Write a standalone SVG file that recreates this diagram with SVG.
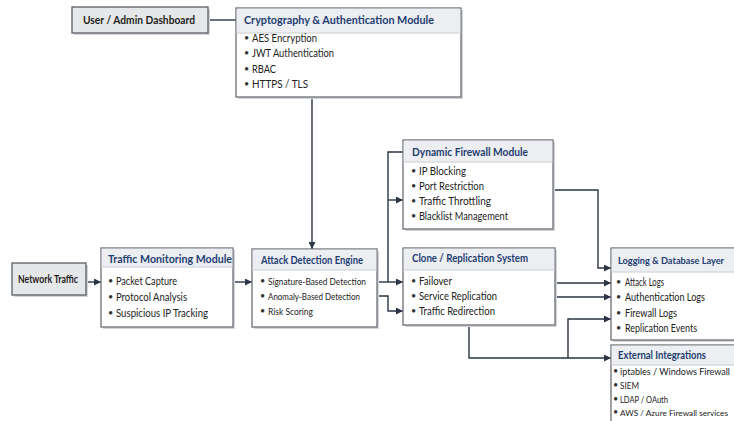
<svg xmlns="http://www.w3.org/2000/svg" width="734" height="421" viewBox="0 0 734 421">
<defs>
<marker id="ah" viewBox="0 0 10 10" refX="10" refY="5" markerWidth="7" markerHeight="7" markerUnits="userSpaceOnUse" orient="auto"><path d="M0,0 L10,5 L0,10 z" fill="#2b3546"/></marker>
<style>
.box{fill:#fff;stroke:#6b6f75;stroke-width:1.3}
.sh{fill:#d4d6da}
.hd{fill:#eceef1}
.gb{fill:#e6e7e9;stroke:#5b5f66;stroke-width:1.3}
text{font-family:Lato,"Open Sans",sans-serif}
.ht{font-weight:bold;font-size:11.5px;fill:#1f3d73}
.it{font-size:10.5px;fill:#222}
.sm{font-size:10px}
.xs{font-size:8.8px}
.b{font-size:9px;fill:#333}
.bt{font-weight:bold;font-size:11px;fill:#1d1d1d}
.c{fill:none;stroke:#2b3546;stroke-width:1.4}
.a{marker-end:url(#ah)}
</style>
</defs>
<rect width="734" height="421" fill="#fff"/>
<g id="connectors">
<path class="c" d="M208,20 H237"/>
<path class="c a" d="M312,97 V249"/>
<path class="c a" d="M86,282 H101"/>
<path class="c a" d="M233,282 H252"/>
<path class="c a" d="M377,282 H403"/>
<path class="c" d="M388,282 V152 H403"/>
<path class="c a" d="M388,200 H403"/>
<path class="c a" d="M377,296 H388 V311 H403"/>
<path class="c a" d="M553,190 H598 V268 H611"/>
<path class="c a" d="M555,283 H611"/>
<path class="c a" d="M555,297 H611"/>
<path class="c a" d="M469,325 V358 H611"/>
<path class="c a" d="M568,358 V319 H611"/>
</g>
<g id="dashboard">
<rect class="sh" x="74" y="9" width="136" height="26"/>
<rect class="gb" x="72" y="7" width="136" height="26"/>
<text class="bt" x="83" y="24" textLength="112" lengthAdjust="spacingAndGlyphs">User / Admin Dashboard</text>
</g>
<g id="crypto">
<rect class="sh" x="238" y="10" width="225" height="89"/>
<rect class="box" x="236" y="8" width="225" height="89"/>
<rect class="hd" x="236.7" y="8.7" width="223.6" height="24"/>
<line x1="236" y1="33" x2="461" y2="33" stroke="#c9ccd1"/>
<text class="ht" x="244" y="24" textLength="190" lengthAdjust="spacingAndGlyphs">Cryptography &amp; Authentication Module</text>
<text class="b" x="244" y="41">•</text><text class="it" x="252" y="42" textLength="65" lengthAdjust="spacingAndGlyphs">AES Encryption</text>
<text class="b" x="244" y="56">•</text><text class="it" x="252" y="57" textLength="82" lengthAdjust="spacingAndGlyphs">JWT Authentication</text>
<text class="b" x="244" y="72">•</text><text class="it" x="252" y="73" textLength="24" lengthAdjust="spacingAndGlyphs">RBAC</text>
<text class="b" x="244" y="87">•</text><text class="it" x="252" y="88" textLength="56" lengthAdjust="spacingAndGlyphs">HTTPS / TLS</text>
</g>
<g id="network">
<rect class="sh" x="14" y="265" width="74" height="32"/>
<rect class="gb" x="12" y="263" width="74" height="32"/>
<text class="bt" x="18" y="283" textLength="60" lengthAdjust="spacingAndGlyphs">Network Traffic</text>
</g>
<g id="monitoring">
<rect class="sh" x="103" y="250" width="132" height="79"/>
<rect class="box" x="101" y="248" width="132" height="79"/>
<rect class="hd" x="101.7" y="248.7" width="130.6" height="18"/>
<line x1="101" y1="267" x2="233" y2="267" stroke="#c9ccd1"/>
<text class="ht" x="108" y="263" textLength="124" lengthAdjust="spacingAndGlyphs">Traffic Monitoring Module</text>
<text class="b" x="108" y="284">•</text><text class="it" x="116" y="285" textLength="61" lengthAdjust="spacingAndGlyphs">Packet Capture</text>
<text class="b" x="108" y="300">•</text><text class="it" x="116" y="301" textLength="71" lengthAdjust="spacingAndGlyphs">Protocol Analysis</text>
<text class="b" x="108" y="316">•</text><text class="it" x="116" y="317" textLength="92" lengthAdjust="spacingAndGlyphs">Suspicious IP Tracking</text>
</g>
<g id="attack">
<rect class="sh" x="254" y="251" width="125" height="78"/>
<rect class="box" x="252" y="249" width="125" height="78"/>
<rect class="hd" x="252.7" y="249.7" width="123.6" height="20"/>
<line x1="252" y1="270" x2="377" y2="270" stroke="#c9ccd1"/>
<text class="ht" x="261" y="264" textLength="102" lengthAdjust="spacingAndGlyphs">Attack Detection Engine</text>
<text class="b" x="260" y="284">•</text><text class="it sm" x="268" y="285" textLength="98" lengthAdjust="spacingAndGlyphs">Signature-Based Detection</text>
<text class="b" x="260" y="299">•</text><text class="it sm" x="268" y="300" textLength="92" lengthAdjust="spacingAndGlyphs">Anomaly-Based Detection</text>
<text class="b" x="260" y="314">•</text><text class="it sm" x="268" y="315" textLength="45" lengthAdjust="spacingAndGlyphs">Risk Scoring</text>
</g>
<g id="firewall">
<rect class="sh" x="405" y="142" width="150" height="89"/>
<rect class="box" x="403" y="140" width="150" height="89"/>
<rect class="hd" x="403.7" y="140.7" width="148.6" height="21"/>
<line x1="403" y1="162" x2="553" y2="162" stroke="#c9ccd1"/>
<text class="ht" x="412" y="156" textLength="116" lengthAdjust="spacingAndGlyphs">Dynamic Firewall Module</text>
<text class="b" x="411" y="174">•</text><text class="it" x="419" y="175" textLength="47" lengthAdjust="spacingAndGlyphs">IP Blocking</text>
<text class="b" x="411" y="189">•</text><text class="it" x="419" y="190" textLength="65" lengthAdjust="spacingAndGlyphs">Port Restriction</text>
<text class="b" x="411" y="204">•</text><text class="it" x="419" y="205" textLength="72" lengthAdjust="spacingAndGlyphs">Traffic Throttling</text>
<text class="b" x="411" y="219">•</text><text class="it" x="419" y="220" textLength="89" lengthAdjust="spacingAndGlyphs">Blacklist Management</text>
</g>
<g id="clone">
<rect class="sh" x="405" y="250" width="152" height="77"/>
<rect class="box" x="403" y="248" width="152" height="77"/>
<rect class="hd" x="403.7" y="248.7" width="150.6" height="21"/>
<line x1="403" y1="270" x2="555" y2="270" stroke="#c9ccd1"/>
<text class="ht" x="412" y="262" textLength="116" lengthAdjust="spacingAndGlyphs">Clone / Replication System</text>
<text class="b" x="411" y="284">•</text><text class="it" x="419" y="285" textLength="33" lengthAdjust="spacingAndGlyphs">Failover</text>
<text class="b" x="411" y="299">•</text><text class="it" x="419" y="300" textLength="78" lengthAdjust="spacingAndGlyphs">Service Replication</text>
<text class="b" x="411" y="314">•</text><text class="it" x="419" y="315" textLength="76" lengthAdjust="spacingAndGlyphs">Traffic Redirection</text>
</g>
<g id="logging">
<rect class="sh" x="613" y="250" width="125" height="92"/>
<rect class="box" x="611" y="248" width="125" height="92"/>
<rect class="hd" x="611.7" y="248.7" width="123.6" height="23"/>
<line x1="611" y1="272" x2="736" y2="272" stroke="#c9ccd1"/>
<text class="ht" x="618" y="264" style="font-size:10.2px" textLength="106" lengthAdjust="spacingAndGlyphs">Logging &amp; Database Layer</text>
<text class="b" x="616" y="285">•</text><text class="it" x="625" y="286" textLength="39" lengthAdjust="spacingAndGlyphs">Attack Logs</text>
<text class="b" x="616" y="300">•</text><text class="it" x="625" y="301" textLength="80" lengthAdjust="spacingAndGlyphs">Authentication Logs</text>
<text class="b" x="616" y="316">•</text><text class="it" x="625" y="317" textLength="52" lengthAdjust="spacingAndGlyphs">Firewall Logs</text>
<text class="b" x="616" y="331">•</text><text class="it" x="625" y="332" textLength="72" lengthAdjust="spacingAndGlyphs">Replication Events</text>
</g>
<g id="external">
<rect class="sh" x="613" y="347" width="125" height="80"/>
<rect class="box" x="611" y="345" width="125" height="80"/>
<rect class="hd" x="611.7" y="345.7" width="123.6" height="19"/>
<line x1="611" y1="365" x2="736" y2="365" stroke="#c9ccd1"/>
<text class="ht" x="618" y="359" textLength="88" lengthAdjust="spacingAndGlyphs">External Integrations</text>
<text class="b" x="613" y="374">•</text><text class="it xs" x="620" y="375" textLength="110" lengthAdjust="spacingAndGlyphs">iptables / Windows Firewall</text>
<text class="b" x="613" y="388">•</text><text class="it xs" x="620" y="389" textLength="19" lengthAdjust="spacingAndGlyphs">SIEM</text>
<text class="b" x="613" y="402">•</text><text class="it xs" x="620" y="403" textLength="48" lengthAdjust="spacingAndGlyphs">LDAP / OAuth</text>
<text class="b" x="613" y="415">•</text><text class="it" x="620" y="416" style="font-size:8.2px" textLength="108" lengthAdjust="spacingAndGlyphs">AWS / Azure Firewall services</text>
</g>
</svg>
